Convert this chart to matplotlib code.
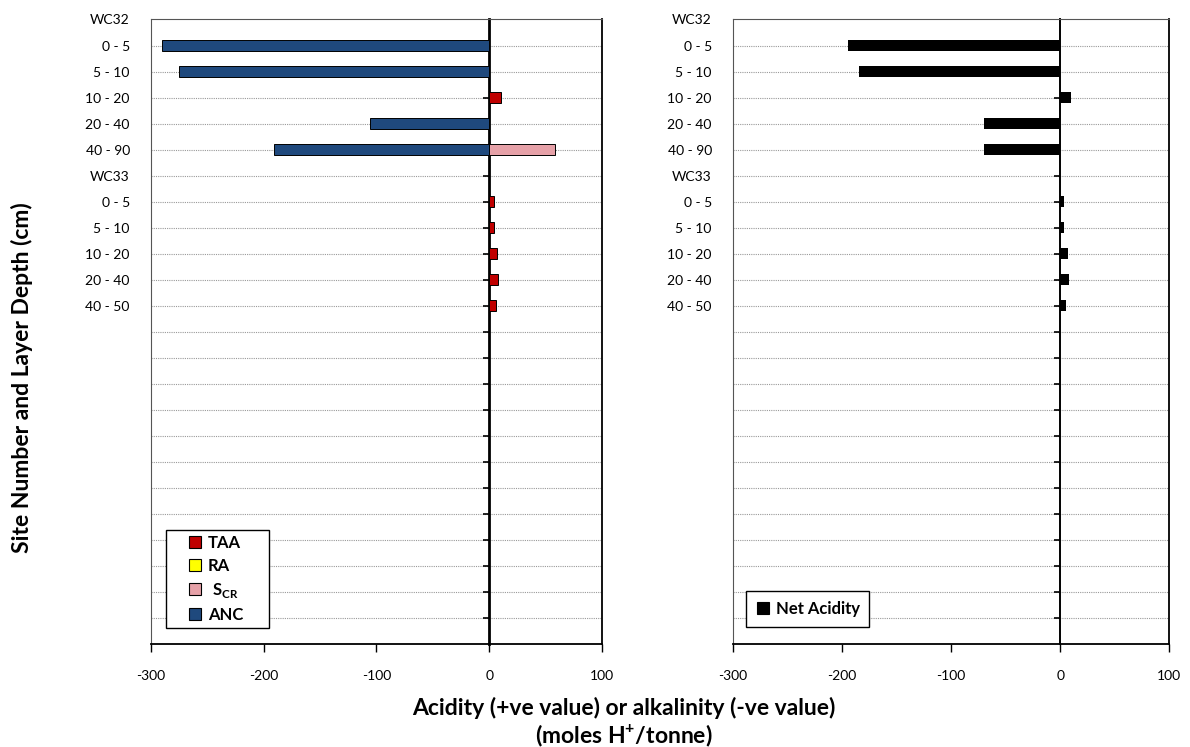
import matplotlib.pyplot as plt
from matplotlib.lines import Line2D
import numpy as np

plt.rcParams['font.family'] = ['Lato', 'DejaVu Sans']
plt.rcParams['mathtext.fontset'] = 'custom'
plt.rcParams['mathtext.rm'] = 'Lato'
plt.rcParams['mathtext.bf'] = 'Lato:bold'

# layer labels (top to bottom)
layers = ["WC32", "0 - 5", "5 - 10", "10 - 20", "20 - 40", "40 - 90",
          "WC33", "0 - 5", "5 - 10", "10 - 20", "20 - 40", "40 - 50"]
n_slots = 24  # empty category slots continue below the data

# left panel components (moles H+/tonne)
taa = [0, 0, 0, 10, 0, 0, 0, 4, 4, 7, 8, 6]
ra = [0, 0, 0, 0, 0, 0, 0, 0, 0, 0, 0, 0]
scr = [0, 0, 0, 0, 0, 58, 0, 0, 0, 0, 0, 0]
anc = [0, -290, -275, 0, -106, -191, 0, 0, 0, 0, 0, 0]

# right panel
net_acidity = [0, -194, -184, 10, -70, -70, 0, 3.5, 3.5, 7, 8, 5.5]

col_taa = "#C00000"
col_ra = "#FFFF00"
col_scr = "#E6A1A8"
col_anc = "#1F497D"

xticks = [-300, -200, -100, 0, 100]


def style_axes(ax, zero_lw):
    ax.set_xlim(-300, 100)
    ax.set_ylim(n_slots, 0)
    ax.set_xticks(xticks)
    ax.set_xticklabels([str(t) for t in xticks], fontsize=10)
    ax.tick_params(axis="x", direction="out", length=6, width=1, pad=13)
    ax.set_yticks(range(len(layers)))
    ax.set_yticklabels(layers, fontsize=10)
    ax.tick_params(axis="y", length=0, pad=15)
    for k in range(1, n_slots):
        ax.axhline(k, color="#999999", lw=0.8, ls=(0, (1, 1)), zorder=0)
    ax.spines["left"].set_color("#555555")
    ax.spines["top"].set_color("#555555")
    ax.spines["bottom"].set_linewidth(1.3)
    ax.spines["right"].set_linewidth(1.3)
    # axis line at zero with little tick marks pointing left
    sec = ax.secondary_yaxis(0.75)
    sec.set_yticks(range(1, n_slots))
    sec.set_yticklabels([])
    sec.tick_params(axis="y", left=True, right=False, direction="out", length=4, width=1.2)
    for s in ("left", "right"):
        sec.spines[s].set_linewidth(zero_lw)


fig = plt.figure(figsize=(11.9, 7.47), dpi=100)
ax1 = fig.add_axes([0.1266, 0.1379, 0.3795, 0.836])
ax2 = fig.add_axes([0.6157, 0.1379, 0.3669, 0.836])

y = np.arange(len(layers))
h = 0.42
taa = np.array(taa, dtype=float)
ra = np.array(ra, dtype=float)
scr = np.array(scr, dtype=float)
anc = np.array(anc, dtype=float)

mask = taa != 0
ax1.barh(y[mask], taa[mask], height=h, color=col_taa, edgecolor="black", lw=0.7, zorder=3)
mask = ra != 0
ax1.barh(y[mask], ra[mask], left=taa[mask], height=h, color=col_ra, edgecolor="black", lw=0.7, zorder=3)
mask = scr != 0
ax1.barh(y[mask], scr[mask], left=(taa + ra)[mask], height=h, color=col_scr, edgecolor="black", lw=0.7, zorder=3)
mask = anc != 0
ax1.barh(y[mask], anc[mask], height=h, color=col_anc, edgecolor="black", lw=0.7, zorder=3)
style_axes(ax1, 2.0)


def sq(c, edge="black"):
    return Line2D([], [], ls="none", marker="s", markersize=8, markerfacecolor=c,
                  markeredgecolor=edge, markeredgewidth=0.8)


handles = [sq(col_taa), sq(col_ra), sq(col_scr), sq(col_anc)]
labels = ["TAA", "RA", r" S$_{\mathbf{CR}}$", "ANC"]
leg = ax1.legend(handles, labels, loc="lower left", mode="expand",
                 bbox_to_anchor=(0.0332, 0.0256, 0.2287, 0.2), borderaxespad=0,
                 fancybox=False, framealpha=1, edgecolor="black",
                 prop={"weight": "bold", "size": 12}, handlelength=2.9,
                 labelspacing=0.42, borderpad=0.3, handletextpad=-0.66)
leg.get_frame().set_linewidth(1.0)
leg.set_zorder(5)

net = np.array(net_acidity, dtype=float)
mask = net != 0
ax2.barh(y[mask], net[mask], height=h, color="black", zorder=3)
style_axes(ax2, 1.4)
leg2 = ax2.legend([sq("black", "black")], ["Net Acidity"], loc="lower left", mode="expand",
                  bbox_to_anchor=(0.030, 0.0267, 0.2833, 0.1), borderaxespad=0,
                  fancybox=False, framealpha=1, edgecolor="black",
                  prop={"weight": "bold", "size": 12}, handlelength=0.8,
                  borderpad=0.62, handletextpad=0.42)
leg2.get_frame().set_linewidth(1.0)
leg2.set_zorder(5)

fig.text(0.5244, 0.032, "Acidity (+ve value) or alkalinity (-ve value)\n(moles H$^{\\mathbf{+}}$/tonne)",
         ha="center", va="center", fontsize=16.5, fontweight="bold", linespacing=1.2)
fig.text(0.0185, 0.494, "Site Number and Layer Depth (cm)", rotation=90,
         ha="center", va="center", fontsize=16.5, fontweight="bold")

fig.savefig("out.png", dpi=100)
